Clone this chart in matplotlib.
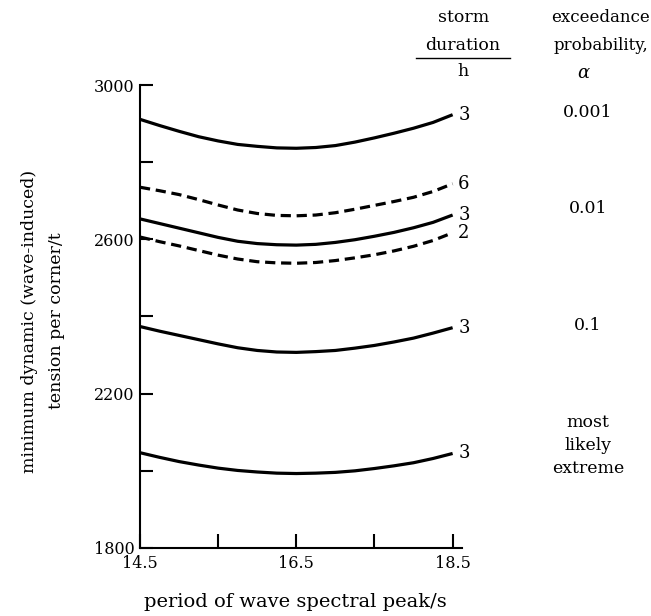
import matplotlib

matplotlib.use("Agg")

import matplotlib.pyplot as plt
from matplotlib.lines import Line2D

plt.rcParams["font.family"] = ["DejaVu Serif"]
plt.rcParams["mathtext.fontset"] = "dejavuserif"

# wave spectral peak period / s
period = [14.5, 14.75, 15.0, 15.25, 15.5, 15.75, 16.0, 16.25, 16.5,
          16.75, 17.0, 17.25, 17.5, 17.75, 18.0, 18.25, 18.5]

# minimum dynamic tension per corner / t
tension_0001_3h = [2911, 2895, 2880, 2866, 2855, 2846, 2841, 2837, 2836,
                   2838, 2843, 2852, 2863, 2875, 2888, 2903, 2923]
tension_001_6h = [2735, 2726, 2716, 2703, 2689, 2676, 2667, 2662, 2661,
                  2663, 2669, 2678, 2688, 2698, 2709, 2724, 2744]
tension_001_3h = [2653, 2641, 2629, 2617, 2605, 2595, 2589, 2586, 2585,
                  2587, 2592, 2599, 2608, 2618, 2630, 2644, 2663]
tension_001_2h = [2606, 2594, 2583, 2571, 2559, 2549, 2542, 2539, 2538,
                  2540, 2545, 2552, 2560, 2570, 2582, 2597, 2617]
tension_01_3h = [2374, 2362, 2351, 2340, 2329, 2319, 2312, 2308, 2307,
                 2309, 2312, 2318, 2325, 2334, 2344, 2357, 2371]
tension_mle_3h = [2047, 2035, 2024, 2015, 2007, 2001, 1997, 1994, 1993,
                  1994, 1996, 2000, 2006, 2013, 2021, 2032, 2045]

curves = [
    (tension_0001_3h, "3", "-"),
    (tension_001_6h, "6", "--"),
    (tension_001_3h, "3", "-"),
    (tension_001_2h, "2", "--"),
    (tension_01_3h, "3", "-"),
    (tension_mle_3h, "3", "-"),
]

prob_labels = ["0.001", "0.01", "0.1", "most\nlikely\nextreme"]
prob_levels = [2928, 2680, 2377, 2066]

x_ticks = [14.5, 15.5, 16.5, 17.5, 18.5]
x_ticklabels = ["14.5", "", "16.5", "", "18.5"]
y_ticks = [1800, 2000, 2200, 2400, 2600, 2800, 3000]
y_ticklabels = ["1800", "", "2200", "", "2600", "", "3000"]

W, H = 651, 616
fig = plt.figure(figsize=(W / 100, H / 100), dpi=100)
ax = fig.add_axes([140 / W, 1 - 548 / H, 322 / W, 463 / H])

for values, dur, ls in curves:
    line, = ax.plot(period, values, color="black", lw=2.3, ls=ls, clip_on=False,
                    solid_capstyle="butt")
    if ls == "--":
        line.set_dashes((3.2, 1.8))
    ax.annotate(dur, (period[-1], values[-1]), xytext=(4, 0), textcoords="offset points",
                ha="left", va="center", fontsize=13, annotation_clip=False)

ax.set_xlim(14.5, 18.62)
ax.set_ylim(1800, 3000)
for side in ["top", "right"]:
    ax.spines[side].set_visible(False)
for side in ["left", "bottom"]:
    ax.spines[side].set_linewidth(1.5)

ax.set_xticks(x_ticks)
ax.set_xticklabels(x_ticklabels)
ax.set_yticks(y_ticks)
ax.set_yticklabels(y_ticklabels)
ax.tick_params(axis="x", direction="in", length=10, width=1.5, pad=5, labelsize=11.5)
ax.tick_params(axis="y", direction="in", length=9, width=1.5, pad=4, labelsize=11.5)

ax.set_xlabel("period of wave spectral peak/s", fontsize=14)
ax.xaxis.set_label_coords(0.484, -0.097)
ax.set_ylabel("minimum dynamic (wave-induced)\ntension per corner/t", fontsize=12.5,
              linespacing=1.75)
ax.yaxis.set_label_coords(-0.233, 0.49)

# right-hand column headings
fig.text(464 / W, 1 - 18 / H, "storm", ha="center", va="center", fontsize=12.5)
fig.text(463 / W, 1 - 45 / H, "duration", ha="center", va="center", fontsize=12.5)
fig.add_artist(Line2D([416 / W, 510 / W], [1 - 58 / H, 1 - 58 / H], color="black", lw=1.0))
fig.text(463 / W, 1 - 72 / H, "h", ha="center", va="center", fontsize=12.5)
fig.text(600 / W, 1 - 18 / H, "exceedance", ha="center", va="center", fontsize=12)
fig.text(601 / W, 1 - 45 / H, "probability,", ha="center", va="center", fontsize=12)
fig.text(584 / W, 1 - 73 / H, r"$\alpha$", ha="center", va="center", fontsize=13)

for lab, lev in zip(prob_labels, prob_levels):
    ax.annotate(lab, (period[-1], lev), xytext=(588 / W, lev),
                textcoords=("figure fraction", "data"),
                ha="center", va="center", fontsize=12.5, linespacing=1.45,
                annotation_clip=False)

fig.savefig("out.png", dpi=100, facecolor="white")
